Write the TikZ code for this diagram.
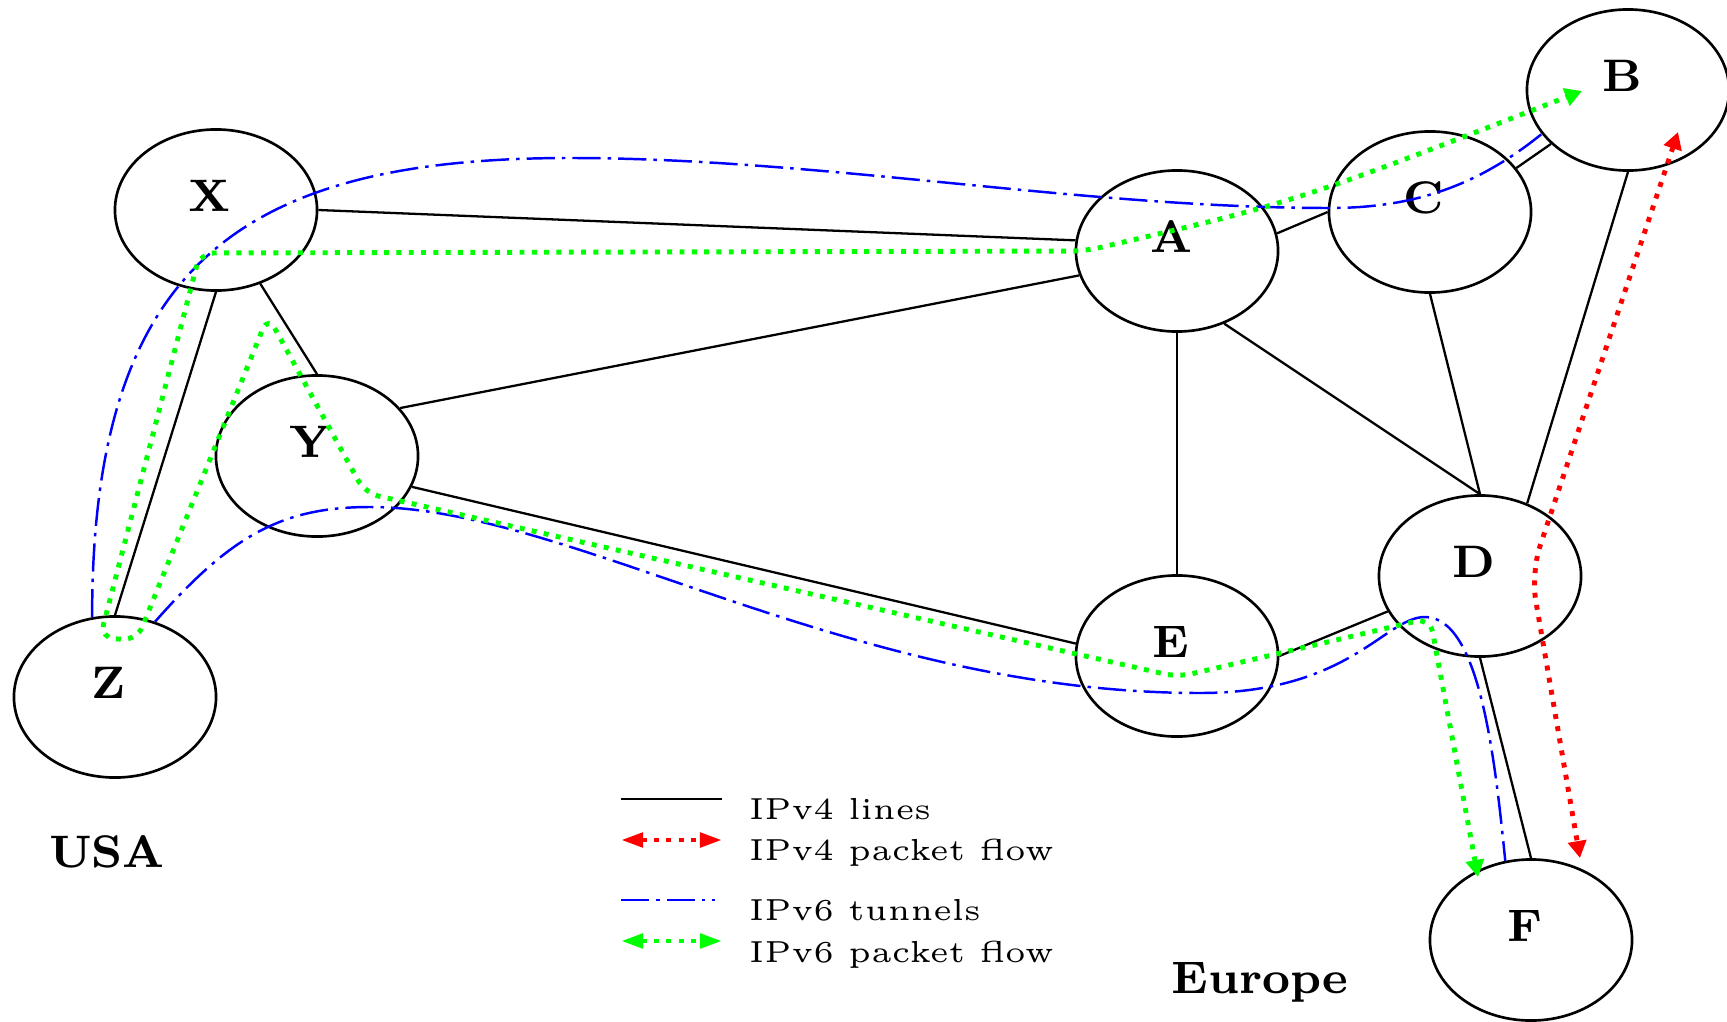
\documentclass[tikz,border=0pt]{standalone}
\usepackage{tikz}
\usetikzlibrary{shapes.geometric,arrows.meta}
\tikzset{
  router/.style={ellipse,draw,line width=0.75pt,minimum width=2.02cm,minimum height=1.61cm,inner sep=0pt,
    label={[font=\fontsize{8}{10}\selectfont\bfseries,shift={(-6,-14)},scale=1.62]center:#1}},
  vfour/.style={line width=0.65pt},
  tunnel/.style={blue,line width=0.7pt,dash pattern=on 8pt off 2pt on 1pt off 2pt},
  flow/.style={line width=1.4pt,dash pattern=on 1.4pt off 2.1pt,rounded corners=4pt,
    >={Triangle[length=1.7mm,width=1.8mm]},<->},
  keyflow/.style={flow,>={Triangle[length=2.2mm,width=1.4mm]}},
  region/.style={font=\fontsize{8}{10}\selectfont\bfseries,anchor=base,inner sep=0pt,scale=1.62},
  keytext/.style={font=\fontsize{5}{6}\selectfont,anchor=base west,inner sep=0pt,scale=1.73}
}
\def\dline{\draw[vfour]}
\def\dtun{\draw[tunnel]}

\begin{document}
\begin{tikzpicture}[x=0.01cm,y=-0.01cm]
\useasboundingbox (0,0) rectangle (1727,1021);
% routers
\node[router=X] (X) at (216,210) {};
\node[router=Y] (Y) at (317,456) {};
\node[router=Z] (Z) at (115,697) {};
\node[router=A] (A) at (1177,251) {};
\node[router=B] (B) at (1628,90) {};
\node[router=C] (C) at (1430,212) {};
\node[router=D] (D) at (1480,576) {};
\node[router=E] (E) at (1177,656) {};
\node[router=F] (F) at (1531,940) {};
\node[region] (usa) at (107,867) {USA};
\node[region] (eu) at (1260,993) {Europe};
% IPv4 lines
\dline (X.east) -- (A.174);
\dline (X.-59) -- (Y.north);
\dline (X.south) -- (Z.north);
\dline (Y.30) -- (A.194);
\dline (Y.-18) -- (E.173);
\dline (A.10) -- (C.west);
\dline (A.south) -- (E.north);
\dline (A.-57) -- (D.north);
\dline (C.south) -- (D.north);
\dline (C.27) -- (B.215);
\dline (B.south) -- (D.57);
\dline (E.east) -- (D.201);
\dline (D.south) -- (F.north);
% IPv6 tunnels
\dtun (Z.106) .. controls (92,266) and (240,158) .. (570,158)
  .. controls (820,158) and (1080,208) .. (1330,208)
  .. controls (1410,208) and (1475,188) .. (B.207);
\dtun (Z.62) .. controls (230,537) and (280,507) .. (370,507)
  .. controls (570,507) and (850,693) .. (1200,693)
  .. controls (1350,693) and (1385,617) .. (1425,617)
  .. controls (1480,617) and (1495,760) .. (F.108);
% packet flows
\coordinate (rB) at (1678,132);
\coordinate (rF) at (1580,858);
\draw[flow,red,rounded corners=8pt] (rB) -- (1531,573) -- (rF);
\coordinate (gB) at (1582,91);
\coordinate (gF) at (1478,877);
\draw[flow,green] (gF) -- (1430,618) -- (1178,677) -- (365,493) -- (268,316)
  -- (137,640) -- (100,638) -- (200,253) -- (1085,251) .. controls (1296,202) .. (gB);
% legend
\node[keytext] (kv4) at (748,819) {IPv4 lines};
\node[keytext] (kf4) at (748,860) {IPv4 packet flow};
\node[keytext] (kv6) at (748,920) {IPv6 tunnels};
\node[keytext] (kf6) at (748,962) {IPv6 packet flow};
\dline ([shift={(-127,-20)}]kv4.base west) -- ++(101,0);
\draw[keyflow,red] ([shift={(-127,-20)}]kf4.base west) -- ++(101,0);
\dtun ([shift={(-127,-20)}]kv6.base west) -- ++(94,0);
\draw[keyflow,green] ([shift={(-127,-21)}]kf6.base west) -- ++(101,0);
\end{tikzpicture}
\end{document}
